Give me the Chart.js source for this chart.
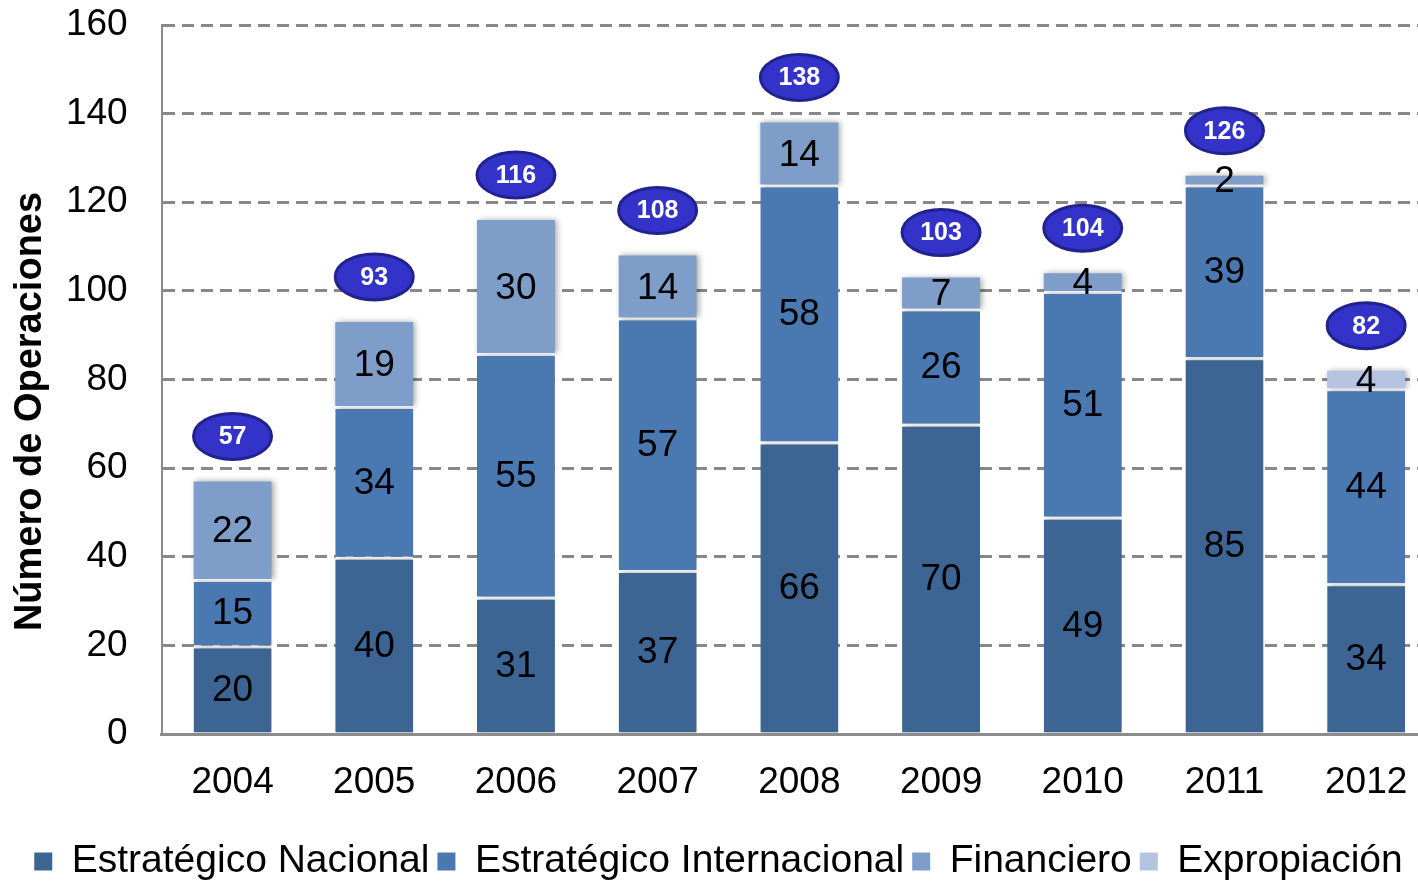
<!DOCTYPE html>
<html>
<head>
<meta charset="utf-8">
<script src="https://cdn.jsdelivr.net/npm/chart.js@4.4.1/dist/chart.umd.min.js"></script>
<style>
html, body { margin: 0; padding: 0; overflow: hidden; background: #fff; width: 1418px; height: 881px; }
#wrap { position: absolute; left: 0; top: 0; width: 1456px; height: 891px; }
</style>
</head>
<body>
<div id="wrap"><canvas id="c" width="1456" height="891"></canvas></div>
<script>
const years = ['2004','2005','2006','2007','2008','2009','2010','2011','2012'];
const nacional      = [20, 40, 31, 37, 66, 70, 49, 85, 34];
const internacional = [15, 34, 55, 57, 58, 26, 51, 39, 44];
const financiero    = [22, 19, 30, 14, 14,  7,  4,  2,  0];
const expropiacion  = [ 0,  0,  0,  0,  0,  0,  0,  0,  4];
const totals        = [57, 93, 116, 108, 138, 103, 104, 126, 82];
const yTicks = { min: 0, max: 160, step: 20 };
const yTitle = 'Número de Operaciones';

const FONT = "'Liberation Sans', Arial, sans-serif";

const shadowPlugin = {
  id: 'barShadow',
  beforeDatasetsDraw(chart) {
    const ctx = chart.ctx;
    ctx.save();
    ctx.shadowColor = 'rgba(0,0,0,0.35)';
    ctx.shadowBlur = 6;
    ctx.shadowOffsetX = 2;
    ctx.shadowOffsetY = 0;
  },
  afterDatasetsDraw(chart) {
    chart.ctx.restore();
  }
};

const labelPlugin = {
  id: 'segLabels',
  afterDatasetsDraw(chart) {
    const ctx = chart.ctx;
    ctx.save();
    ctx.shadowColor = 'transparent';
    ctx.font = '37px ' + FONT;
    ctx.fillStyle = '#000';
    ctx.textAlign = 'center';
    ctx.textBaseline = 'middle';
    chart.data.datasets.forEach((ds, i) => {
      const meta = chart.getDatasetMeta(i);
      meta.data.forEach((bar, j) => {
        const v = ds.data[j];
        if (!v) return;
        const y = (bar.y + bar.base) / 2;
        ctx.fillText(String(v), bar.x, y + 2);
      });
    });
    // total ellipses
    const yScale = chart.scales.y;
    const meta0 = chart.getDatasetMeta(0);
    totals.forEach((t, j) => {
      const x = meta0.data[j].x;
      const cy = yScale.getPixelForValue(t) - 45;
      ctx.beginPath();
      ctx.ellipse(x, cy, 39, 23, 0, 0, Math.PI * 2);
      ctx.fillStyle = '#3333C9';
      ctx.fill();
      ctx.lineWidth = 3;
      ctx.strokeStyle = '#22228F';
      ctx.stroke();
      ctx.fillStyle = '#fff';
      ctx.font = 'bold 25px ' + FONT;
      ctx.fillText(String(t), x, cy + 1);
    });
    ctx.restore();
  }
};

const titlePlugin = {
  id: 'yTitle',
  afterDraw(chart) {
    const ctx = chart.ctx;
    const area = chart.chartArea;
    ctx.save();
    ctx.translate(31, (area.top + area.bottom) / 2 + 32);
    ctx.rotate(-Math.PI / 2);
    ctx.font = 'bold 38px ' + FONT;
    ctx.fillStyle = '#000';
    ctx.textAlign = 'center';
    ctx.textBaseline = 'middle';
    ctx.fillText(yTitle, 0, 0);
    ctx.restore();
  }
};

const mk = (label, data, color) => ({
  label,
  data: data.map(v => (v ? v : null)),
  backgroundColor: color,
  borderColor: '#ffffff',
  borderWidth(ctx) {
    const ds = ctx.chart.data.datasets;
    let above = false;
    for (let k = ctx.datasetIndex + 1; k < ds.length; k++) {
      if (ds[k].data[ctx.dataIndex]) above = true;
    }
    return { top: above ? 3 : 0, left: 0, right: 0, bottom: 0 };
  },
  borderSkipped: false,
  barPercentage: 0.55,
  categoryPercentage: 1.0
});

new Chart(document.getElementById('c'), {
  type: 'bar',
  data: {
    labels: years,
    datasets: [
      mk('Estratégico Nacional', nacional, '#3D6594'),
      mk('Estratégico Internacional', internacional, '#4A79B2'),
      mk('Financiero', financiero, '#7F9DC9'),
      mk('Expropiación', expropiacion, '#B4C3E0')
    ]
  },
  plugins: [shadowPlugin, labelPlugin, titlePlugin],
  options: {
    responsive: false,
    animation: false,
    devicePixelRatio: 1,
    layout: { padding: { top: 25, right: 19, left: 0, bottom: 0 } },
    scales: {
      x: {
        stacked: true,
        grid: { display: false, drawTicks: false },
        border: { display: true, color: '#8C8C8C', width: 3 },
        ticks: { color: '#000', font: { family: FONT, size: 37 }, padding: 27, maxRotation: 0 },
        afterFit(scale) { scale.height = 100; scale.paddingLeft = 0; scale.paddingRight = 0; }
      },
      y: {
        stacked: true,
        min: yTicks.min, max: yTicks.max,
        grid: { color: '#888888', lineWidth: 3, drawTicks: false },
        border: { display: true, color: '#8C8C8C', width: 2, dash: [12, 7] },
        ticks: { stepSize: yTicks.step, color: '#000', font: { family: FONT, size: 37 }, padding: 34 },
        title: { display: false },
        afterFit(scale) { scale.width = 161.7; scale.paddingTop = 0; scale.paddingBottom = 0; }
      }
    },
    plugins: {
      legend: {
        position: 'bottom',
        labels: {
          color: '#000',
          font: { family: FONT, size: 39 },
          boxWidth: 18, boxHeight: 18,
          padding: 8,
          generateLabels(chart) {
            return Chart.defaults.plugins.legend.labels.generateLabels(chart).map(l => {
              l.lineWidth = 0; l.strokeStyle = 'transparent'; return l;
            });
          }
        }
      },
      tooltip: { enabled: false }
    }
  }
});
</script>
</body>
</html>
